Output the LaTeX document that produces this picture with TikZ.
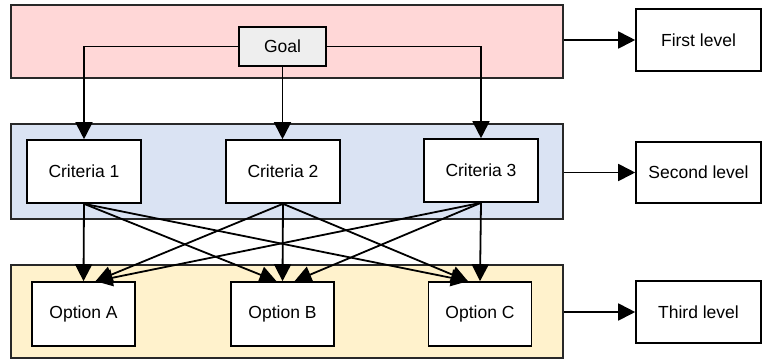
\documentclass[tikz,border=0pt]{standalone}
\usepackage{fontspec}
\setmainfont{Liberation Sans}
\usetikzlibrary{arrows.meta}
\definecolor{bandpink}{RGB}{255,215,215}
\definecolor{bandblue}{RGB}{218,227,243}
\definecolor{bandyellow}{RGB}{255,242,204}
\definecolor{goalgray}{RGB}{238,238,238}
\definecolor{edgegray}{RGB}{40,40,40}
\tikzset{
  band/.style={draw=edgegray, line width=1.5pt, rectangle, inner sep=0pt, minimum width=552pt},
  box/.style={draw=black, line width=1.6pt, fill=white, rectangle, inner sep=0pt,
              font=\fontsize{17.5}{19}\selectfont},
  link/.style={line width=1.8pt, -{Triangle[length=17pt,width=17pt]}},
}
\begin{document}
\begin{tikzpicture}[x=1pt,y=-1pt]
  \useasboundingbox (0,0) rectangle (765,360);

  % level bands
  \node[band, fill=bandpink,   minimum height=73pt] (L1) at (287,41.5) {};
  \node[band, fill=bandblue,   minimum height=95pt] (L2) at (287,171.5) {};
  \node[band, fill=bandyellow, minimum height=93pt] (L3) at (287,311.5) {};

  % goal
  \node[box, fill=goalgray, minimum width=87pt, minimum height=39pt] (G) at (282.5,46.5) {Goal};

  % criteria
  \node[box, minimum width=114pt, minimum height=63pt] (C1) at (84,171.5) {Criteria 1};
  \node[box, minimum width=114pt, minimum height=63pt] (C2) at (283,171.5) {Criteria 2};
  \node[box, minimum width=114pt, minimum height=63pt] (C3) at (481,170.5) {Criteria 3};

  % options
  \node[box, minimum width=103pt, minimum height=64pt] (A) at (83.5,314) {Option A};
  \node[box, minimum width=103pt, minimum height=64pt] (B) at (282.5,314) {Option B};
  \node[box, minimum width=103pt, minimum height=64pt] (C) at (480,314) {Option C};

  % level labels
  \node[box, minimum width=125pt, minimum height=62pt] (F1) at (698.5,40) {First level};
  \node[box, minimum width=125pt, minimum height=61pt] (F2) at (698.5,172.5) {Second level};
  \node[box, minimum width=125pt, minimum height=62pt] (F3) at (698.5,312) {Third level};

  % goal to criteria
  \draw[link] (G.west) -| (C1.north);
  \draw[link] (G.south) -- (C2.north -| G.south);
  \draw[link] (G.east) -| (C3.north);

  % criteria to options
  \draw[link] (C1.south) -- (A.north);
  \draw[link] (C1.south) -- ([xshift=-6pt]B.north);
  \draw[link] (C1.south) -- ([xshift=-12pt]C.north);
  \draw[link] (C2.south) -- ([xshift=12pt]A.north);
  \draw[link] (C2.south) -- (B.north);
  \draw[link] (C2.south) -- ([xshift=-12pt]C.north);
  \draw[link] (C3.south) -- ([xshift=12pt]A.north);
  \draw[link] (C3.south) -- ([xshift=12pt]B.north);
  \draw[link] (C3.south) -- (C.north);

  % bands to level labels
  \draw[link] (F1.west -| L1.east) -- (F1.west);
  \draw[link] (F2.west -| L2.east) -- (F2.west);
  \draw[link] (F3.west -| L3.east) -- (F3.west);
\end{tikzpicture}
\end{document}
